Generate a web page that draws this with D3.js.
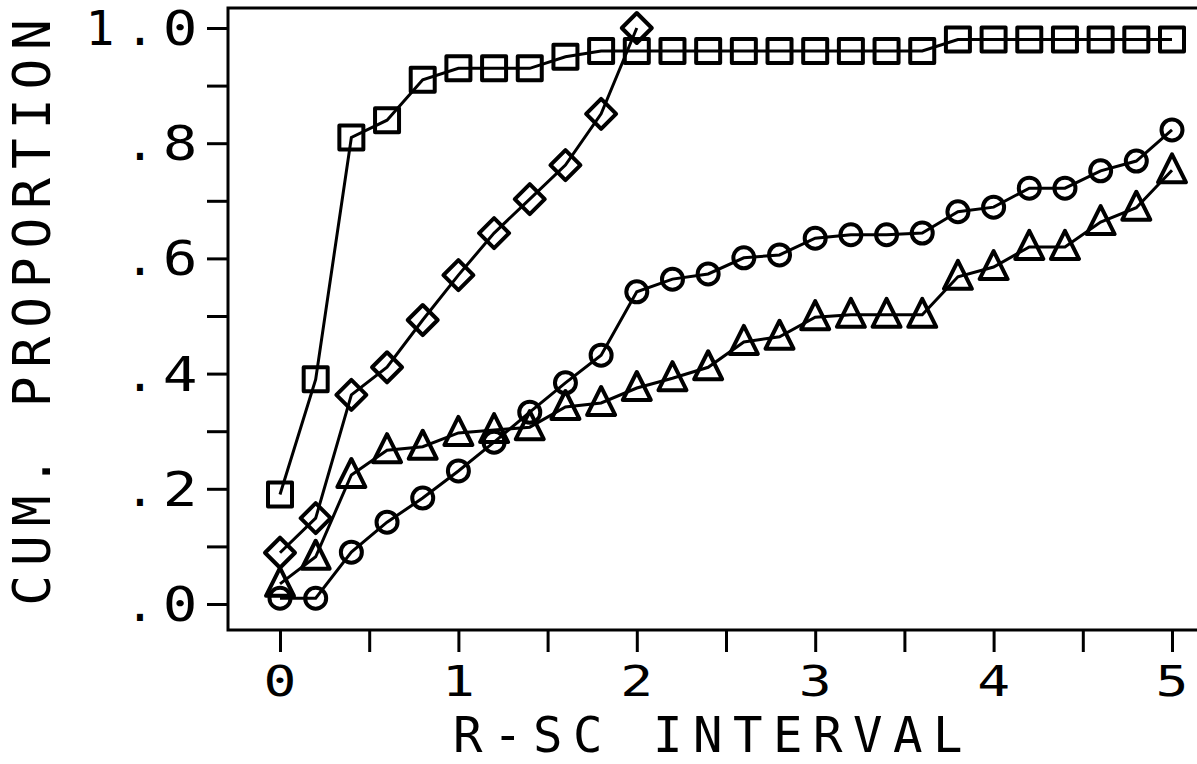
<!DOCTYPE html>
<html>
<head>
<meta charset="utf-8">
<script src="https://cdn.jsdelivr.net/npm/d3@7"></script>
<style>
  html, body { margin: 0; padding: 0; background: #fff; }
  text { font-family: "DejaVu Sans Mono", monospace; fill: #000; }
</style>
</head>
<body>
<div id="chart"></div>
<script>
// R-SC interval steps
const intervals = [0, 0.2, 0.4, 0.6, 0.8, 1.0, 1.2, 1.4, 1.6, 1.8, 2.0, 2.2, 2.4,
                   2.6, 2.8, 3.0, 3.2, 3.4, 3.6, 3.8, 4.0, 4.2, 4.4, 4.6, 4.8, 5.0];

// cumulative proportions, one list per marker series
const squareSeries = [0.19, 0.39, 0.81, 0.84, 0.91, 0.93, 0.93, 0.93, 0.95, 0.96, 0.96, 0.96, 0.96,
                      0.96, 0.96, 0.96, 0.96, 0.96, 0.96, 0.98, 0.98, 0.98, 0.98, 0.98, 0.98, 0.98];
const diamondSeries = [0.089, 0.149, 0.363, 0.411, 0.493, 0.571, 0.644, 0.703, 0.762, 0.851, 1.0];
const circleSeries = [0.010, 0.010, 0.090, 0.142, 0.184, 0.231, 0.281, 0.333, 0.384, 0.432, 0.542, 0.564, 0.573,
                      0.601, 0.606, 0.635, 0.641, 0.641, 0.644, 0.681, 0.689, 0.722, 0.722, 0.752, 0.769, 0.823];
const triangleSeries = [0.035, 0.082, 0.224, 0.267, 0.273, 0.297, 0.302, 0.307, 0.342, 0.349, 0.375, 0.392, 0.411,
                        0.455, 0.464, 0.498, 0.502, 0.502, 0.502, 0.568, 0.585, 0.620, 0.620, 0.663, 0.688, 0.753];

// ticks
const xTicks = [0, 0.5, 1, 1.5, 2, 2.5, 3, 3.5, 4, 4.5, 5];
const xTickLabels = ["0", "1", "2", "3", "4", "5"];
const yTicks = [0, 0.1, 0.2, 0.3, 0.4, 0.5, 0.6, 0.7, 0.8, 0.9, 1.0];
const yTickLabels = [".0", ".2", ".4", ".6", ".8", "1.0"];

const width = 1197, height = 764;
const frame = { left: 228, top: 8, bottom: 630, right: 1200 };

const x = d3.scaleLinear().domain([0, 5]).range([280, 1172]);
const y = d3.scaleLinear().domain([0, 1]).range([604, 28]);

const svg = d3.select('#chart').append('svg')
    .attr('width', width)
    .attr('height', height);

// Frame (left, top, bottom; right side runs off the picture)
svg.append('path')
    .attr('d', `M${frame.right},${frame.top}H${frame.left}V${frame.bottom}H${frame.right}`)
    .attr('fill', 'none')
    .attr('stroke', '#000')
    .attr('stroke-width', 3);

// Axes: only the tick marks come from d3, labels are drawn below
const xAxis = d3.axisBottom(x).tickValues(xTicks).tickSize(22).tickFormat('');
const yAxis = d3.axisLeft(y).tickValues(yTicks).tickSize(21).tickFormat('');

const gx = svg.append('g').attr('transform', `translate(0,${frame.bottom})`).call(xAxis);
const gy = svg.append('g').attr('transform', `translate(${frame.left},0)`).call(yAxis);
[gx, gy].forEach(g => {
    g.select('.domain').remove();
    g.selectAll('.tick line').attr('stroke', '#000').attr('stroke-width', 3);
});

// x tick labels
svg.append('g').selectAll('text')
    .data(xTickLabels)
    .enter()
    .append('text')
    .attr('transform', (d, i) => `translate(${x(i)},696) scale(1.3,1)`)
    .attr('text-anchor', 'middle')
    .style('font-size', '42px')
    .text(d => d);

// y tick labels: digits, dot and leading "1" sit in fixed columns
const yLab = svg.append('g').selectAll('g')
    .data(yTickLabels)
    .enter()
    .append('g')
    .attr('transform', (d, i) => `translate(0,${y(i * 0.2) + 17})`);

yLab.append('text')
    .attr('transform', 'translate(180,0) scale(1.2,1)')
    .attr('text-anchor', 'middle')
    .style('font-size', '48px')
    .text(d => d[d.length - 1]);

yLab.append('text')
    .attr('x', 140)
    .attr('text-anchor', 'middle')
    .style('font-size', '48px')
    .text('.');

yLab.filter(d => d.length > 2)
    .append('text')
    .attr('x', 100)
    .attr('text-anchor', 'middle')
    .style('font-size', '48px')
    .text(d => d[0]);

// axis titles
svg.append('text')
    .attr('x', 713)
    .attr('y', 752)
    .attr('text-anchor', 'middle')
    .style('font-size', '49px')
    .style('letter-spacing', '10.5px')
    .text('R-SC INTERVAL');

svg.append('text')
    .attr('transform', 'translate(50,308) rotate(-90)')
    .attr('text-anchor', 'middle')
    .style('font-size', '51px')
    .style('letter-spacing', '9px')
    .text('CUM. PROPORTION');

// marker shapes, centred on 0,0
const markerPaths = {
    square: 'M-12,-12H12V12H-12Z',
    diamond: 'M0,-15L15,0L0,15L-15,0Z',
    circle: 'M-10.5,0A10.5,10.5 0 1,0 10.5,0A10.5,10.5 0 1,0 -10.5,0Z',
    triangle: 'M0,-16L14,12H-14Z'
};

const seriesList = [
    { values: squareSeries, shape: 'square' },
    { values: diamondSeries, shape: 'diamond' },
    { values: circleSeries, shape: 'circle' },
    { values: triangleSeries, shape: 'triangle' }
];

const line = d3.line()
    .x(d => x(d[0]))
    .y(d => y(d[1]));

seriesList.forEach(s => {
    const pts = s.values.map((v, i) => [intervals[i], v]);
    const g = svg.append('g');

    g.append('path')
        .datum(pts)
        .attr('d', line)
        .attr('fill', 'none')
        .attr('stroke', '#000')
        .attr('stroke-width', 3);

    g.selectAll('path.marker')
        .data(pts)
        .enter()
        .append('path')
        .attr('class', 'marker')
        .attr('d', markerPaths[s.shape])
        .attr('transform', d => `translate(${x(d[0])},${y(d[1])})`)
        .attr('fill', 'none')
        .attr('stroke', '#000')
        .attr('stroke-width', 4)
        .attr('stroke-linejoin', 'round');
});
</script>
</body>
</html>
